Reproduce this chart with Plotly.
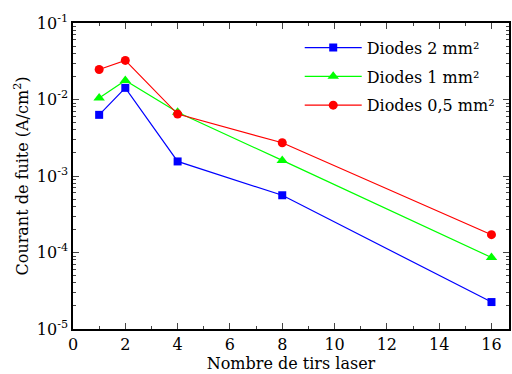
import plotly.graph_objects as go

shots = [1, 2, 4, 8, 16]
diodes_2mm = [6.3e-3, 1.42e-2, 1.55e-3, 5.6e-4, 2.25e-5]
diodes_1mm = [1.05e-2, 1.77e-2, 6.8e-3, 1.6e-3, 8.6e-5]
diodes_05mm = [2.47e-2, 3.24e-2, 6.45e-3, 2.72e-3, 1.71e-4]

series = [
    ("Diodes 2 mm²", diodes_2mm, "#0000ff", "square", 8),
    ("Diodes 1 mm²", diodes_1mm, "#00ff00", "triangle-up", 10),
    ("Diodes 0,5 mm²", diodes_05mm, "#ff0000", "circle", 9),
]

y_tickvals = [1e-5, 1e-4, 1e-3, 1e-2, 1e-1]
y_ticktext = ["10<sup>-5</sup>", "10<sup>-4</sup>", "10<sup>-3</sup>", "10<sup>-2</sup>", "10<sup>-1</sup>"]
x_tickvals = [0, 2, 4, 6, 8, 10, 12, 14, 16]

FONT = "'DejaVu Serif', 'Liberation Serif', serif"

fig = go.Figure()
for name, vals, color, sym, sz in series:
    fig.add_trace(go.Scatter(
        x=shots, y=vals, name=name, mode="lines+markers", legendgroup=name,
        line=dict(color=color, width=1.2),
        marker=dict(color=color, symbol=sym, size=sz),
    ))

minor_y = [m * 10.0 ** e for e in range(-5, -1) for m in range(2, 10)]

fig.update_layout(
    width=512, height=374,
    margin=dict(l=73, r=1, t=23, b=45),
    paper_bgcolor="white", plot_bgcolor="white",
    font=dict(family=FONT, size=16, color="black"),
    showlegend=True,
    legend=dict(x=0.52, y=0.975, xanchor="left", yanchor="top",
                bgcolor="rgba(0,0,0,0)", font=dict(family=FONT, size=16),
                tracegroupgap=5, itemwidth=57),
    xaxis=dict(
        range=[0, 16.67], tickvals=x_tickvals, ticks="inside", ticklen=6,
        tickwidth=1, showline=True, linecolor="black", linewidth=1.5,
        mirror="ticks", showgrid=False, zeroline=False,
        tickfont=dict(family=FONT, size=16),
        minor=dict(tickvals=[1, 3, 5, 7, 9, 11, 13, 15], ticks="inside", ticklen=3, tickwidth=1, showgrid=False),
        title=dict(text="Nombre de tirs laser", font=dict(family=FONT, size=16), standoff=4),
    ),
    yaxis=dict(
        type="log", range=[-5, -1], tickvals=y_tickvals, ticktext=y_ticktext,
        ticks="inside", ticklen=6, tickwidth=1, showline=True, linecolor="black",
        linewidth=1.5, mirror="ticks", showgrid=False, zeroline=False,
        tickfont=dict(family=FONT, size=16),
        minor=dict(tickvals=minor_y, ticks="inside", ticklen=3, tickwidth=1, showgrid=False),
        title=dict(text="Courant de fuite (A/cm<sup>2</sup>)", font=dict(family=FONT, size=16), standoff=4),
    ),
)

fig.write_html("out.html")
